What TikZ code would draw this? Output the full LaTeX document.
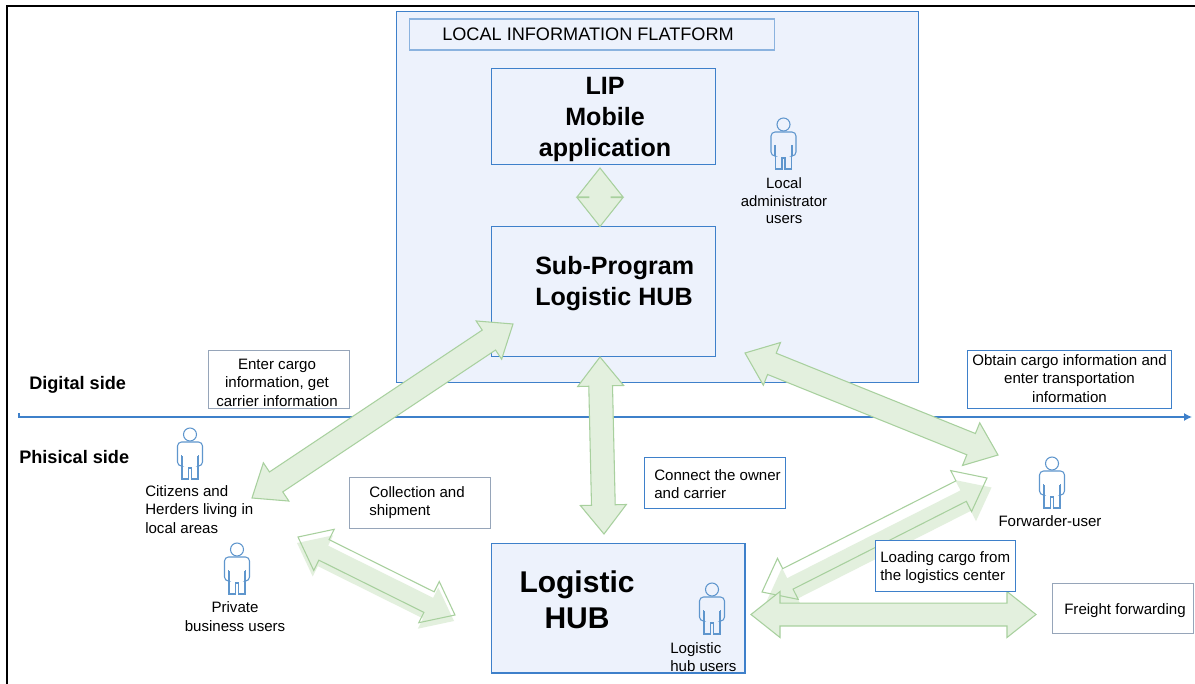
\documentclass[tikz,border=0pt]{standalone}
\usepackage{fontspec}
\setmainfont{Liberation Sans}
\usetikzlibrary{calc, arrows.meta}

\definecolor{panelfill}{RGB}{237,242,252}
\definecolor{panelline}{RGB}{62,128,202}
\definecolor{greyline}{RGB}{150,165,185}
\definecolor{arrowfill}{RGB}{227,240,222}
\definecolor{arrowline}{RGB}{168,208,158}
\definecolor{personline}{RGB}{95,150,205}

\tikzset{
	panel/.style={shape=rectangle, draw=panelline, fill=panelfill, line width=1.05pt, anchor=north west, inner sep=0pt},
	notebox/.style={shape=rectangle, draw=#1, fill=white, line width=1pt, anchor=north west, inner sep=0pt},
	notebox/.default=panelline,
	label/.style={inner sep=0pt, align=center, font=\fontsize{11.3}{13.9}\selectfont},
	leftlabel/.style={label, align=left, anchor=north west},
	headline/.style={inner sep=0pt, align=center, font=\fontsize{18.8}{23}\selectfont\bfseries},
	sidelabel/.style={inner sep=0pt, anchor=west, font=\fontsize{13.6}{16}\selectfont\bfseries},
	bigarrow/.style={draw=arrowline, fill=arrowfill, line width=0.8pt, line join=miter},
	pics/person/.style={code={
		\draw[personline, line width=0.8pt] (0, 6.5) circle (6.5);
		\draw[personline, line width=0.8pt, rounded corners=3pt] (-9, 38) -- (-12.5, 38) -- (-12.5, 14) -- (12.5, 14) -- (12.5, 38) -- (9, 38);
		\draw[personline, line width=0.8pt] (-8, 28) -- (-8, 51) -- (-1.5, 51) -- (-1.5, 40) -- (1.5, 40) -- (1.5, 51) -- (8, 51) -- (8, 28);
		\draw[personline, line width=1pt] (-8.5, 27) -- (-8.5, 38) (8.5, 27) -- (8.5, 38);
	}},
}

% block arrow with two heads: tips #2 and #3, half shaft width #4
\newcommand{\greenarrow}[4][]{
	\draw[bigarrow, #1] (#2)
		-- ($($(#2)!21.75pt!(#3)$)!17.25pt!90:(#3)$)
		-- ($($(#2)!21.75pt!(#3)$)!#4!90:(#3)$)
		-- ($($(#3)!21.75pt!(#2)$)!#4!-90:(#2)$)
		-- ($($(#3)!21.75pt!(#2)$)!17.25pt!-90:(#2)$)
		-- (#3)
		-- ($($(#3)!21.75pt!(#2)$)!17.25pt!90:(#2)$)
		-- ($($(#3)!21.75pt!(#2)$)!#4!90:(#2)$)
		-- ($($(#2)!21.75pt!(#3)$)!#4!-90:(#3)$)
		-- ($($(#2)!21.75pt!(#3)$)!17.25pt!-90:(#3)$)
		-- cycle;
}

\begin{document}
\begin{tikzpicture}[x=0.75pt, y=-0.75pt]
	\useasboundingbox[fill=white] (0, 0) rectangle (1195, 684);
	% Frame
	\coordinate (frameA) at (7, 684);
	\coordinate (frameB) at (7, 6);
	\coordinate (frameC) at (1195, 6);
	\draw[line width=1.4pt] (frameA) -- (frameB) -- (frameC);

	% Panels and boxes
	\node[panel, minimum width=391.5pt, minimum height=278.25pt] (platform) at (396, 11){};
	\node[panel, draw=panelline!60, line width=0.9pt, minimum width=273.75pt, minimum height=23.25pt] (platformTitle) at (408.5, 18.5){};
	\node[anchor=west, inner sep=0pt, font=\fontsize{13.6}{16}\selectfont] (platformText) at (442, 34){LOCAL INFORMATION FLATFORM};
	\node[panel, minimum width=168pt, minimum height=72pt] (lipBox) at (491, 68){};
	\node[headline] (lipText) at (605, 119.5){LIP\\Mobile\\application};
	\node[panel, minimum width=168pt, minimum height=97.5pt] (subBox) at (491, 226){};
	\node[headline, align=left, anchor=north west] (subText) at (535, 256.5){Sub-Program\\Logistic HUB};
	\node[panel, minimum width=190pt, minimum height=97pt] (hubBox) at (491, 543){};
	\node[inner sep=0pt, align=center, font=\fontsize{22.5}{27}\selectfont\bfseries] (hubText) at (577, 600){Logistic\\HUB};

	% Axis between the two sides
	\coordinate (axisTick) at (19, 413);
	\coordinate (axisStart) at (19, 417);
	\coordinate (axisEnd) at (1192, 417);
	\draw[panelline, line width=1pt, -{Latex[length=6pt, width=6pt]}] (axisTick) -- (axisStart) -- (axisEnd);
	\node[sidelabel] (digitalText) at (29, 384.5){Digital side};
	\node[sidelabel] (physicalText) at (19, 457.5){Phisical side};

	% Text boxes under the arrows
	\node[notebox=greyline, minimum width=105.75pt, minimum height=43.5pt] (enterBox) at (208, 349.5){};
	\node[label] (enterText) at (277, 382.5){Enter cargo\\information, get\\carrier information};
	\node[notebox, minimum width=153pt, minimum height=43.5pt] (obtainBox) at (966.5, 349.5){};
	\node[label] (obtainText) at (1069.5, 378.5){Obtain cargo information and\\enter transportation\\information};
	\node[notebox=greyline, minimum width=105.5pt, minimum height=38pt] (collectBox) at (349, 477){};
	\node[leftlabel] (collectText) at (369, 486){Collection and\\shipment};
	\node[notebox, minimum width=105.75pt, minimum height=38pt] (connectBox) at (644, 457){};
	\node[leftlabel] (connectText) at (654, 469){Connect the owner\\and carrier};
	\node[notebox=greyline, minimum width=105.5pt, minimum height=37.5pt] (freightBox) at (1052, 583){};
	\node[leftlabel] (freightText) at (1064, 603){Freight forwarding};

	% Block arrows
	\coordinate (citizensTip) at (252, 498);
	\coordinate (subTip) at (513, 324);
	\greenarrow{citizensTip}{subTip}{9pt}
	\coordinate (subBottomTip) at (600, 357);
	\coordinate (hubTopTip) at (604, 534);
	\greenarrow{subBottomTip}{hubTopTip}{8.9pt}
	\coordinate (lipTip) at (600, 168);
	\coordinate (subTopTip) at (600, 226.5);
	\greenarrow{lipTip}{subTopTip}{8.4pt}
	\coordinate (platformTip) at (745, 353);
	\coordinate (forwarderTip) at (998, 455);
	\greenarrow{platformTip}{forwarderTip}{8.6pt}
	% outline arrow with its offset fill
	\coordinate (hubRightTip) at (762, 592);
	\coordinate (forwarderLow) at (987, 478);
	\coordinate (hubRightFill) at (766.5, 601.5);
	\coordinate (forwarderFill) at (991.5, 487.5);
	\greenarrow[draw=none, fill=white]{hubRightTip}{forwarderLow}{8.6pt}
	\greenarrow[draw=none]{hubRightFill}{forwarderFill}{8.6pt}
	\greenarrow[fill=none]{hubRightTip}{forwarderLow}{8.6pt}
	\coordinate (privateTip) at (298, 537);
	\coordinate (hubLeftTip) at (455, 615);
	\coordinate (privateFill) at (297, 543);
	\coordinate (hubLeftFill) at (454, 621);
	\greenarrow[draw=none, fill=white]{privateTip}{hubLeftTip}{8.6pt}
	\greenarrow[draw=none]{privateFill}{hubLeftFill}{8.6pt}
	\greenarrow[fill=none]{privateTip}{hubLeftTip}{8.6pt}
	\coordinate (hubOutTip) at (751, 614.5);
	\coordinate (freightTip) at (1036, 614.5);
	\greenarrow{hubOutTip}{freightTip}{8.6pt}

	% Box over the arrows
	\node[notebox, minimum width=105pt, minimum height=38.25pt] (loadingBox) at (874.5, 539.5){};
	\node[leftlabel] (loadingText) at (880, 551){Loading cargo from\\the logistics center};

	% Users
	\pic (adminUser) at (783.5, 118) {person};
	\node[label, font=\fontsize{11.2}{13.2}\selectfont] (adminText) at (784, 201){Local\\administrator\\users};
	\pic (citizenUser) at (190, 428) {person};
	\node[leftlabel] (citizenText) at (145, 485){Citizens and\\Herders living  in\\local  areas};
	\pic (privateUser) at (237, 543) {person};
	\node[label] (privateText) at (235, 616.5){Private\\business users};
	\pic (forwarderUser) at (1052, 457) {person};
	\node[label] (forwarderText) at (1050, 521){Forwarder-user};
	\pic (hubUser) at (712, 583) {person};
	\node[leftlabel] (hubUserText) at (670, 642){Logistic\\hub users};
\end{tikzpicture}
\end{document}
